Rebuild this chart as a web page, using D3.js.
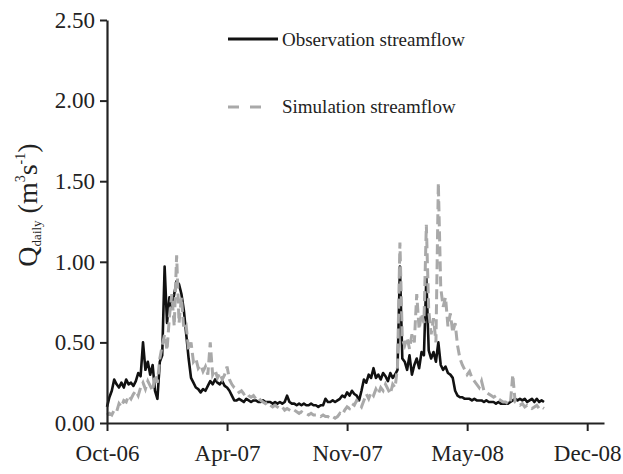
<!DOCTYPE html>
<html>
<head>
<meta charset="utf-8">
<script src="https://cdn.jsdelivr.net/npm/d3@7"></script>
<style>
  html, body { margin: 0; padding: 0; background: #fff; }
  svg { display: block; }
  svg text { font-family: "Liberation Serif", "DejaVu Serif", "Times New Roman", Times, serif; fill: #222; }
</style>
</head>
<body>
<svg id="chart" width="623" height="474"></svg>
<script>
// Daily streamflow, sampled every 4 days from 1 Oct 2006 (water years 2007-2008)
const startDate = new Date(Date.UTC(2006, 9, 1));
const stepDays = 4;

const observed = [
  0.10,0.16,0.20,0.27,0.24,0.22,0.25,0.22,0.27,0.24,
  0.25,0.23,0.26,0.31,0.29,0.50,0.33,0.38,0.30,0.36,
  0.20,0.15,0.38,0.42,0.97,0.62,0.78,0.72,0.80,0.88,
  0.86,0.80,0.70,0.55,0.40,0.28,0.25,0.22,0.21,0.19,
  0.21,0.20,0.23,0.26,0.24,0.27,0.25,0.24,0.26,0.23,
  0.22,0.20,0.17,0.14,0.14,0.15,0.14,0.13,0.15,0.14,
  0.13,0.14,0.14,0.13,0.13,0.14,0.13,0.13,0.13,0.12,
  0.13,0.12,0.13,0.12,0.13,0.17,0.13,0.12,0.12,0.11,
  0.12,0.11,0.12,0.11,0.11,0.12,0.11,0.11,0.10,0.11,
  0.11,0.15,0.13,0.13,0.14,0.13,0.14,0.15,0.17,0.16,
  0.19,0.17,0.20,0.18,0.17,0.14,0.20,0.27,0.25,0.30,
  0.28,0.34,0.28,0.30,0.27,0.31,0.29,0.26,0.31,0.28,
  0.30,0.33,0.97,0.40,0.38,0.33,0.42,0.30,0.36,0.40,
  0.34,0.44,0.42,0.90,0.45,0.40,0.44,0.38,0.50,0.36,
  0.33,0.35,0.31,0.30,0.28,0.20,0.17,0.16,0.16,0.15,
  0.15,0.15,0.14,0.15,0.14,0.14,0.14,0.13,0.14,0.13,
  0.13,0.13,0.12,0.13,0.12,0.12,0.12,0.12,0.13,0.14,
  0.15,0.14,0.15,0.14,0.15,0.13,0.14,0.15,0.13,0.15,
  0.13,0.14,0.13
];

const simulated = [
  0.05,0.06,0.05,0.08,0.07,0.12,0.10,0.14,0.13,0.17,
  0.15,0.18,0.20,0.17,0.22,0.25,0.21,0.26,0.23,0.20,
  0.30,0.25,0.40,0.48,0.55,0.45,0.66,0.80,0.60,1.04,
  0.62,0.78,0.58,0.60,0.45,0.50,0.38,0.40,0.34,0.36,
  0.32,0.35,0.30,0.50,0.30,0.33,0.28,0.31,0.27,0.30,
  0.35,0.27,0.24,0.22,0.21,0.19,0.20,0.18,0.19,0.17,
  0.16,0.17,0.15,0.16,0.14,0.13,0.12,0.13,0.11,0.10,
  0.11,0.10,0.09,0.10,0.08,0.09,0.08,0.07,0.08,0.07,
  0.06,0.07,0.06,0.06,0.05,0.06,0.05,0.05,0.05,0.04,
  0.05,0.04,0.04,0.03,0.04,0.03,0.04,0.06,0.05,0.08,
  0.10,0.09,0.12,0.11,0.14,0.12,0.10,0.14,0.18,0.15,
  0.19,0.17,0.21,0.18,0.22,0.20,0.24,0.21,0.18,0.24,
  0.22,0.35,1.12,0.52,0.48,0.53,0.46,0.55,0.50,0.80,
  0.58,0.68,0.62,1.23,0.70,0.55,0.65,0.50,1.49,0.84,
  0.72,0.78,0.60,0.68,0.56,0.62,0.48,0.40,0.36,0.33,
  0.30,0.32,0.28,0.26,0.24,0.22,0.26,0.20,0.19,0.18,
  0.17,0.16,0.17,0.15,0.14,0.13,0.13,0.12,0.12,0.30,
  0.13,0.12,0.11,0.12,0.10,0.11,0.10,0.09,0.10,0.11,
  0.09,0.10,0.09
];

const yTicks = [0, 0.5, 1.0, 1.5, 2.0, 2.5];
// Axis labels fall every 200 days from the start date
const xTickOffsets = [0, 200, 400, 600, 800];
const seriesNames = ["Observation streamflow", "Simulation streamflow"];

const serif = "'Liberation Serif', 'DejaVu Serif', 'Times New Roman', Times, serif";
const svg = d3.select("#chart");

const x = d3.scaleUtc()
  .domain([startDate, d3.utcDay.offset(startDate, 828)])
  .range([107, 604]);
const y = d3.scaleLinear().domain([0, 2.5]).range([423, 20]);

const dates = observed.map((_, i) => d3.utcDay.offset(startDate, i * stepDays));

const line = d3.line()
  .x((d, i) => x(dates[i]))
  .y(d => y(d));

// Series
svg.append("path")
  .datum(observed)
  .attr("d", line)
  .attr("fill", "none")
  .attr("stroke", "#111")
  .attr("stroke-width", 2.6)
  .attr("stroke-linejoin", "round");

svg.append("path")
  .datum(simulated)
  .attr("d", line)
  .attr("fill", "none")
  .attr("stroke", "#a9a9a9")
  .attr("stroke-width", 3)
  .attr("stroke-dasharray", "10,5");

// Axes
const fmt = d3.utcFormat("%b-%y");
const xAxis = d3.axisBottom(x)
  .tickValues(xTickOffsets.map(o => d3.utcDay.offset(startDate, o)))
  .tickFormat(fmt)
  .tickSizeInner(8)
  .tickSizeOuter(0)
  .tickPadding(14);

const gx = svg.append("g").attr("transform", "translate(0,423)").call(xAxis);
gx.attr("font-family", serif).attr("font-size", 23);
gx.select(".domain").attr("stroke", "#222").attr("stroke-width", 2.2);
gx.selectAll(".tick line").attr("stroke", "#222").attr("stroke-width", 2);
gx.selectAll(".tick text").style("font-family", serif).style("font-size", "23px").attr("fill", "#222");

const yAxis = d3.axisLeft(y)
  .tickValues(yTicks)
  .tickFormat(d3.format(".2f"))
  .tickSizeInner(7)
  .tickSizeOuter(0)
  .tickPadding(5);

const gy = svg.append("g").attr("transform", "translate(107,0)").call(yAxis);
gy.attr("font-family", serif).attr("font-size", 23);
gy.select(".domain").attr("stroke", "#222").attr("stroke-width", 2.2);
gy.selectAll(".tick line").attr("stroke", "#222").attr("stroke-width", 2);
gy.selectAll(".tick text").style("font-family", serif).style("font-size", "23px").attr("fill", "#222");

// Y axis title: Q_daily (m3 s-1)
const title = svg.append("text")
  .attr("transform", "translate(37,205) rotate(-90)")
  .attr("text-anchor", "middle")
  .style("font-family", serif)
  .style("font-size", "28px");
title.append("tspan").text("Q");
title.append("tspan").style("font-size", "13px").attr("dy", 4).text("daily");
title.append("tspan").attr("dy", -4).text(" (m");
title.append("tspan").style("font-size", "14px").attr("dy", -12).text("3");
title.append("tspan").attr("dy", 12).text("s");
title.append("tspan").style("font-size", "14px").attr("dy", -12).text("-1");
title.append("tspan").attr("dy", 12).text(")");

// Legend
const legend = svg.append("g");
legend.append("line")
  .attr("x1", 228).attr("x2", 278).attr("y1", 39).attr("y2", 39)
  .attr("stroke", "#111").attr("stroke-width", 3);
legend.append("text")
  .attr("x", 282).attr("y", 46)
  .style("font-family", serif).style("font-size", "19px")
  .text(seriesNames[0]);
legend.append("line")
  .attr("x1", 228).attr("x2", 262).attr("y1", 107).attr("y2", 107)
  .attr("stroke", "#a9a9a9").attr("stroke-width", 3)
  .attr("stroke-dasharray", "11,11");
legend.append("text")
  .attr("x", 282).attr("y", 113)
  .style("font-family", serif).style("font-size", "19px")
  .text(seriesNames[1]);
</script>
</body>
</html>
